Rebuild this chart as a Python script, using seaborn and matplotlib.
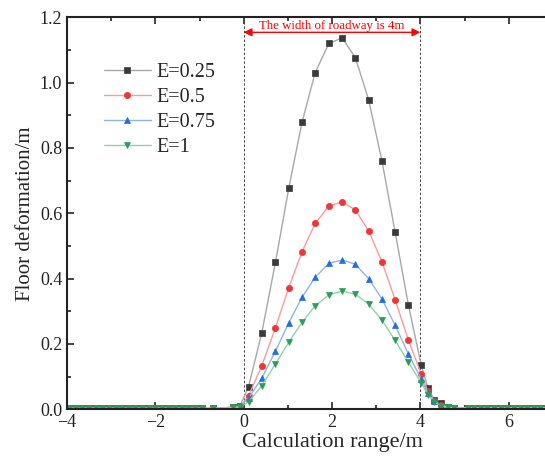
import matplotlib
matplotlib.use("Agg")
import matplotlib.pyplot as plt
import seaborn as sns
import pandas as pd

x_vals = [-3.95, -3.8, -3.65, -3.5, -3.35, -3.2, -3.05, -2.9, -2.75, -2.6, -2.45, -2.3,
          -2.15, -2.0, -1.85, -1.7, -1.55, -1.4, -1.25, -1.1, -0.95, -0.7, -0.25, -0.08,
          0.11, 0.41, 0.72, 1.02, 1.32, 1.62, 1.93, 2.23, 2.53, 2.83, 3.13, 3.43, 3.73, 4.02,
          4.17, 4.32, 4.47, 4.62, 4.77, 5.07, 5.22, 5.37, 5.52, 5.67, 5.82, 5.97, 6.12,
          6.27, 6.42, 6.57, 6.72, 6.87]

out_left = [0.003] * 21 + [0.003, 0.006]
e025 = out_left + [0.011, 0.069, 0.234, 0.450, 0.676, 0.878, 1.031, 1.120, 1.137, 1.076,
                   0.947, 0.761, 0.542, 0.319, 0.135, 0.066, 0.028, 0.018, 0.008, 0.005,
                   0.004, 0.004, 0.004, 0.004, 0.004, 0.004, 0.004, 0.004, 0.004, 0.004,
                   0.004, 0.004, 0.004]
e05 = out_left + [0.009, 0.041, 0.133, 0.250, 0.372, 0.482, 0.569, 0.622, 0.635, 0.610,
                  0.546, 0.452, 0.335, 0.212, 0.108, 0.055, 0.025, 0.012, 0.007, 0.005,
                  0.004, 0.004, 0.004, 0.004, 0.004, 0.004, 0.004, 0.004, 0.004, 0.004,
                  0.004, 0.004, 0.004]
e075 = out_left + [0.008, 0.034, 0.095, 0.178, 0.264, 0.343, 0.404, 0.447, 0.457, 0.444,
                   0.400, 0.338, 0.257, 0.169, 0.093, 0.050, 0.024, 0.012, 0.007, 0.005,
                   0.004, 0.004, 0.004, 0.004, 0.004, 0.004, 0.004, 0.004, 0.004, 0.004,
                   0.004, 0.004, 0.004]
e1 = out_left + [0.007, 0.023, 0.072, 0.139, 0.205, 0.266, 0.317, 0.350, 0.362, 0.352,
                 0.322, 0.273, 0.211, 0.144, 0.081, 0.045, 0.022, 0.011, 0.006, 0.004,
                 0.004, 0.004, 0.004, 0.004, 0.004, 0.004, 0.004, 0.004, 0.004, 0.004,
                 0.004, 0.004, 0.004]

labels = ["E=0.25", "E=0.5", "E=0.75", "E=1"]
series = [e025, e05, e075, e1]
line_colors = ["#a8a8a8", "#ff9a9a", "#8fb4ee", "#8fd4a8"]
marker_colors = ["#3a3a3a", "#f03535", "#1f6fe0", "#2a9d5a"]
markers = ["s", "o", "^", "v"]

sns.set_style("ticks")
plt.rcParams["font.family"] = ["Liberation Serif", "DejaVu Serif"]

fig = plt.figure(figsize=(5.45, 4.59), dpi=100)
ax = fig.add_axes([67 / 545, 1 - 409.3 / 459, (597 - 67) / 545, (409.3 - 17.3) / 459])

handles = []
for lab, ys, lc, mc, mk in zip(labels, series, line_colors, marker_colors, markers):
    df = pd.DataFrame({"x": x_vals, "y": ys})
    sns.lineplot(data=df, x="x", y="y", ax=ax, color=lc, lw=1.0, marker=mk,
                 markersize=4.5, markerfacecolor=mc, markeredgecolor=mc,
                 markeredgewidth=0.5, label=lab, legend=False, sort=False)
    handles.append(ax.lines[-1])

ax.axvline(0, color="#444444", lw=0.7, ls=(0, (2.5, 2)), zorder=1)
ax.axvline(4, color="#444444", lw=0.7, ls=(0, (2.5, 2)), zorder=1)
ax.annotate("", xy=(0, 1.154), xytext=(4, 1.154),
            arrowprops=dict(arrowstyle="<|-|>", color="red", lw=1.0,
                            mutation_scale=12, shrinkA=0, shrinkB=0))
ax.text(2, 1.172, "The width of roadway is 4m", color="red", ha="center", va="center",
        fontsize=9.3)

ax.set_xlim(-4, 8)
ax.set_ylim(0, 1.2)
ax.set_xticks([-4, -2, 0, 2, 4, 6])
ax.set_xticks([-3, -1, 1, 3, 5, 7], minor=True)
ax.set_yticks([0.0, 0.2, 0.4, 0.6, 0.8, 1.0, 1.2])
ax.set_yticks([0.1, 0.3, 0.5, 0.7, 0.9, 1.1], minor=True)
ax.set_yticklabels(["0.0", "0.2", "0.4", "0.6", "0.8", "1.0", "1.2"])
ax.set_xticklabels(["\u22124", "\u22122", "0", "2", "4", "6"])
ax.tick_params(which="both", direction="in", top=True, right=False, width=1.2,
               labelsize=13, colors="#222222")
ax.tick_params(which="major", length=5)
ax.tick_params(which="minor", length=3)
for s in ["left", "bottom", "top"]:
    ax.spines[s].set_linewidth(1.5)
    ax.spines[s].set_color("#222222")
ax.spines["right"].set_visible(False)

ax.set_xlabel("Calculation range/m", fontsize=16, labelpad=1)
ax.set_ylabel("Floor deformation/m", fontsize=15, labelpad=3)

ax.legend(handles=handles, labels=labels, loc="upper left", frameon=False,
          bbox_to_anchor=(0.055, 0.905), fontsize=14.5, handlelength=2.3,
          handletextpad=0.3, labelspacing=0.3, borderaxespad=0)

fig.savefig("out.png", dpi=100)
